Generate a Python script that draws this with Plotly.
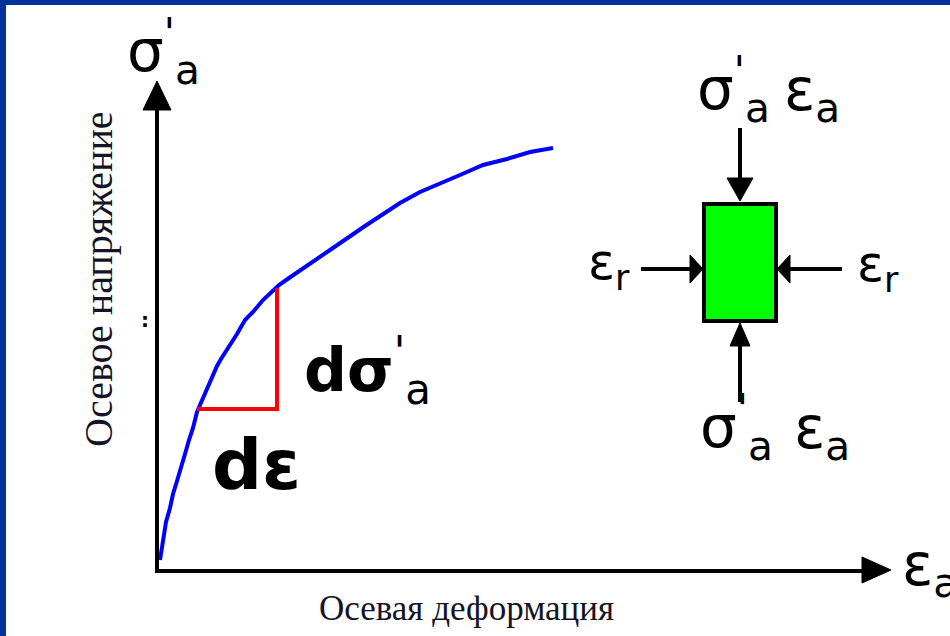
import plotly.graph_objects as go

# ---- data (strain / stress in arbitrary units) ----
strain = [0.03, 0.06, 0.09, 0.13, 0.16, 0.20, 0.24, 0.28, 0.32, 0.36, 0.40, 0.44, 0.48,
          0.52, 0.56, 0.60, 0.64, 0.72, 0.80, 0.88, 0.96, 1.06, 1.15, 1.22, 1.32, 1.44,
          1.73, 2.08, 2.43, 2.63, 2.83, 3.03, 3.26, 3.50, 3.73, 3.96]
stress = [0.11, 0.31, 0.49, 0.63, 0.77, 0.90, 1.05, 1.17, 1.31, 1.43, 1.59, 1.68, 1.77,
          1.87, 1.97, 2.05, 2.12, 2.24, 2.37, 2.51, 2.59, 2.71, 2.79, 2.86, 2.93, 3.01,
          3.21, 3.45, 3.68, 3.79, 3.88, 3.96, 4.06, 4.12, 4.19, 4.23]
tri_strain = [0.40, 1.20, 1.20]
tri_stress = [1.62, 1.62, 2.83]

x_title = "Осевая деформация"
y_title = "Осевое напряжение"

# ---- layout helpers (schematic placement) ----
W, H = 950, 636
OX, OY, S = 157, 571, 100.0


def X(px):
    return (px - OX) / S


def Y(py):
    return (OY - py) / S


fig = go.Figure()

fig.add_trace(go.Scatter(x=strain, y=stress, mode="lines",
                         line=dict(color="#0000ff", width=4), hoverinfo="skip"))
fig.add_trace(go.Scatter(x=tri_strain, y=tri_stress, mode="lines",
                         line=dict(color="#ff0000", width=4), hoverinfo="skip"))

shapes = []
BLACK = "#000000"
BLUE_FRAME = "#003399"

# frame strips (left and top)
shapes.append(dict(type="rect", xref="paper", yref="paper", x0=0, x1=6 / W, y0=0, y1=1,
                   fillcolor=BLUE_FRAME, line=dict(width=0), layer="above"))
shapes.append(dict(type="rect", xref="paper", yref="paper", x0=0, x1=1, y0=1 - 5 / H, y1=1,
                   fillcolor=BLUE_FRAME, line=dict(width=0), layer="above"))


def line(x0, y0, x1, y1, w=4):
    shapes.append(dict(type="line", xref="x", yref="y", x0=X(x0), y0=Y(y0),
                       x1=X(x1), y1=Y(y1), line=dict(color=BLACK, width=w)))


def poly(pts, fill=BLACK):
    d = "M " + " L ".join(f"{X(a):.4f},{Y(b):.4f}" for a, b in pts) + " Z"
    shapes.append(dict(type="path", xref="x", yref="y", path=d,
                       fillcolor=fill, line=dict(color=fill, width=1)))


# axes
line(157, 573, 157, 100)
poly([(157, 81), (171, 110), (143, 110)])
line(155, 571, 872, 571)
poly([(891, 570), (862, 557), (862, 583)])

# element box
shapes.append(dict(type="rect", xref="x", yref="y", x0=X(704), y0=Y(321), x1=X(776), y1=Y(204),
                   fillcolor="#00ff00", line=dict(color=BLACK, width=4)))
# top arrow
line(740, 128, 740, 185, 4)
poly([(740, 201), (727, 178), (753, 178)])
# bottom arrow
line(740, 335, 740, 402, 4)
poly([(740, 323), (730, 346), (750, 346)])
# left arrow
line(641, 269, 695, 269, 4)
poly([(703, 269), (690, 255), (690, 283)])
# right arrow
line(785, 269, 842, 269, 4)
poly([(777, 269), (790, 255), (790, 283)])

fig.update_layout(shapes=shapes)

# ---- text ----
ann = []
SANS = "DejaVu Sans"


def label(html, ink_left, base, size, sup=False, sub=False):
    top = 1.07 if sup else 0.93
    bot = 0.375 if sub else 0.24
    yc = base + (bot - top) / 2 * size
    ann.append(dict(text=html, x=X(ink_left - 0.06 * size), y=Y(yc), xref="x", yref="y",
                    showarrow=False, xanchor="left", yanchor="middle",
                    font=dict(family=SANS, size=size, color=BLACK)))


SIG = "σ<sup>'</sup><sub>a</sub>"
EPA = "ε<sub>a</sub>"
EPR = "ε<sub>r</sub>"

label(SIG, 128, 72, 58, True, True)          # axis label at top of y axis
label(SIG, 698, 110, 58, True, True)         # top of element
label(EPA, 785, 110, 58, False, True)
label(SIG, 701, 448, 58, True, True)         # bottom of element
label(EPA, 795, 448, 58, False, True)
label(EPR, 589, 279, 50, False, True)        # left
label(EPR, 858, 281, 50, False, True)        # right
label("<b>dσ</b><sup>'</sup><sub>a</sub>", 306, 391, 60, True, True)
label("<b>dε</b>", 214, 489, 70)
label(EPA, 903, 585, 58, False, True)        # x axis end
ann.append(dict(text="<b>:</b>", x=X(145), y=Y(320), xref="x", yref="y", showarrow=False,
                xanchor="center", yanchor="middle",
                font=dict(family=SANS, size=20, color=BLACK)))

SERIF = "Liberation Serif"
ann.append(dict(text=x_title, x=X(466), y=Y(608), xref="x", yref="y", showarrow=False,
                xanchor="center", yanchor="middle",
                font=dict(family=SERIF, size=35, color="#141426")))
ann.append(dict(text=y_title, x=X(98), y=Y(279), xref="x", yref="y", showarrow=False,
                xanchor="center", yanchor="middle", textangle=-90,
                font=dict(family=SERIF, size=40, color="#141426")))

fig.update_layout(
    annotations=ann,
    width=W, height=H,
    margin=dict(l=0, r=0, t=0, b=0, pad=0),
    paper_bgcolor="#ffffff",
    plot_bgcolor="#ffffff",
    showlegend=False,
    xaxis=dict(range=[X(0), X(W)], visible=False, fixedrange=True),
    yaxis=dict(range=[Y(H), Y(0)], visible=False, fixedrange=True),
)

fig.write_html("out.html", config={"displayModeBar": False},
               post_script="document.body.style.margin='0px';document.body.style.overflow='hidden';")
